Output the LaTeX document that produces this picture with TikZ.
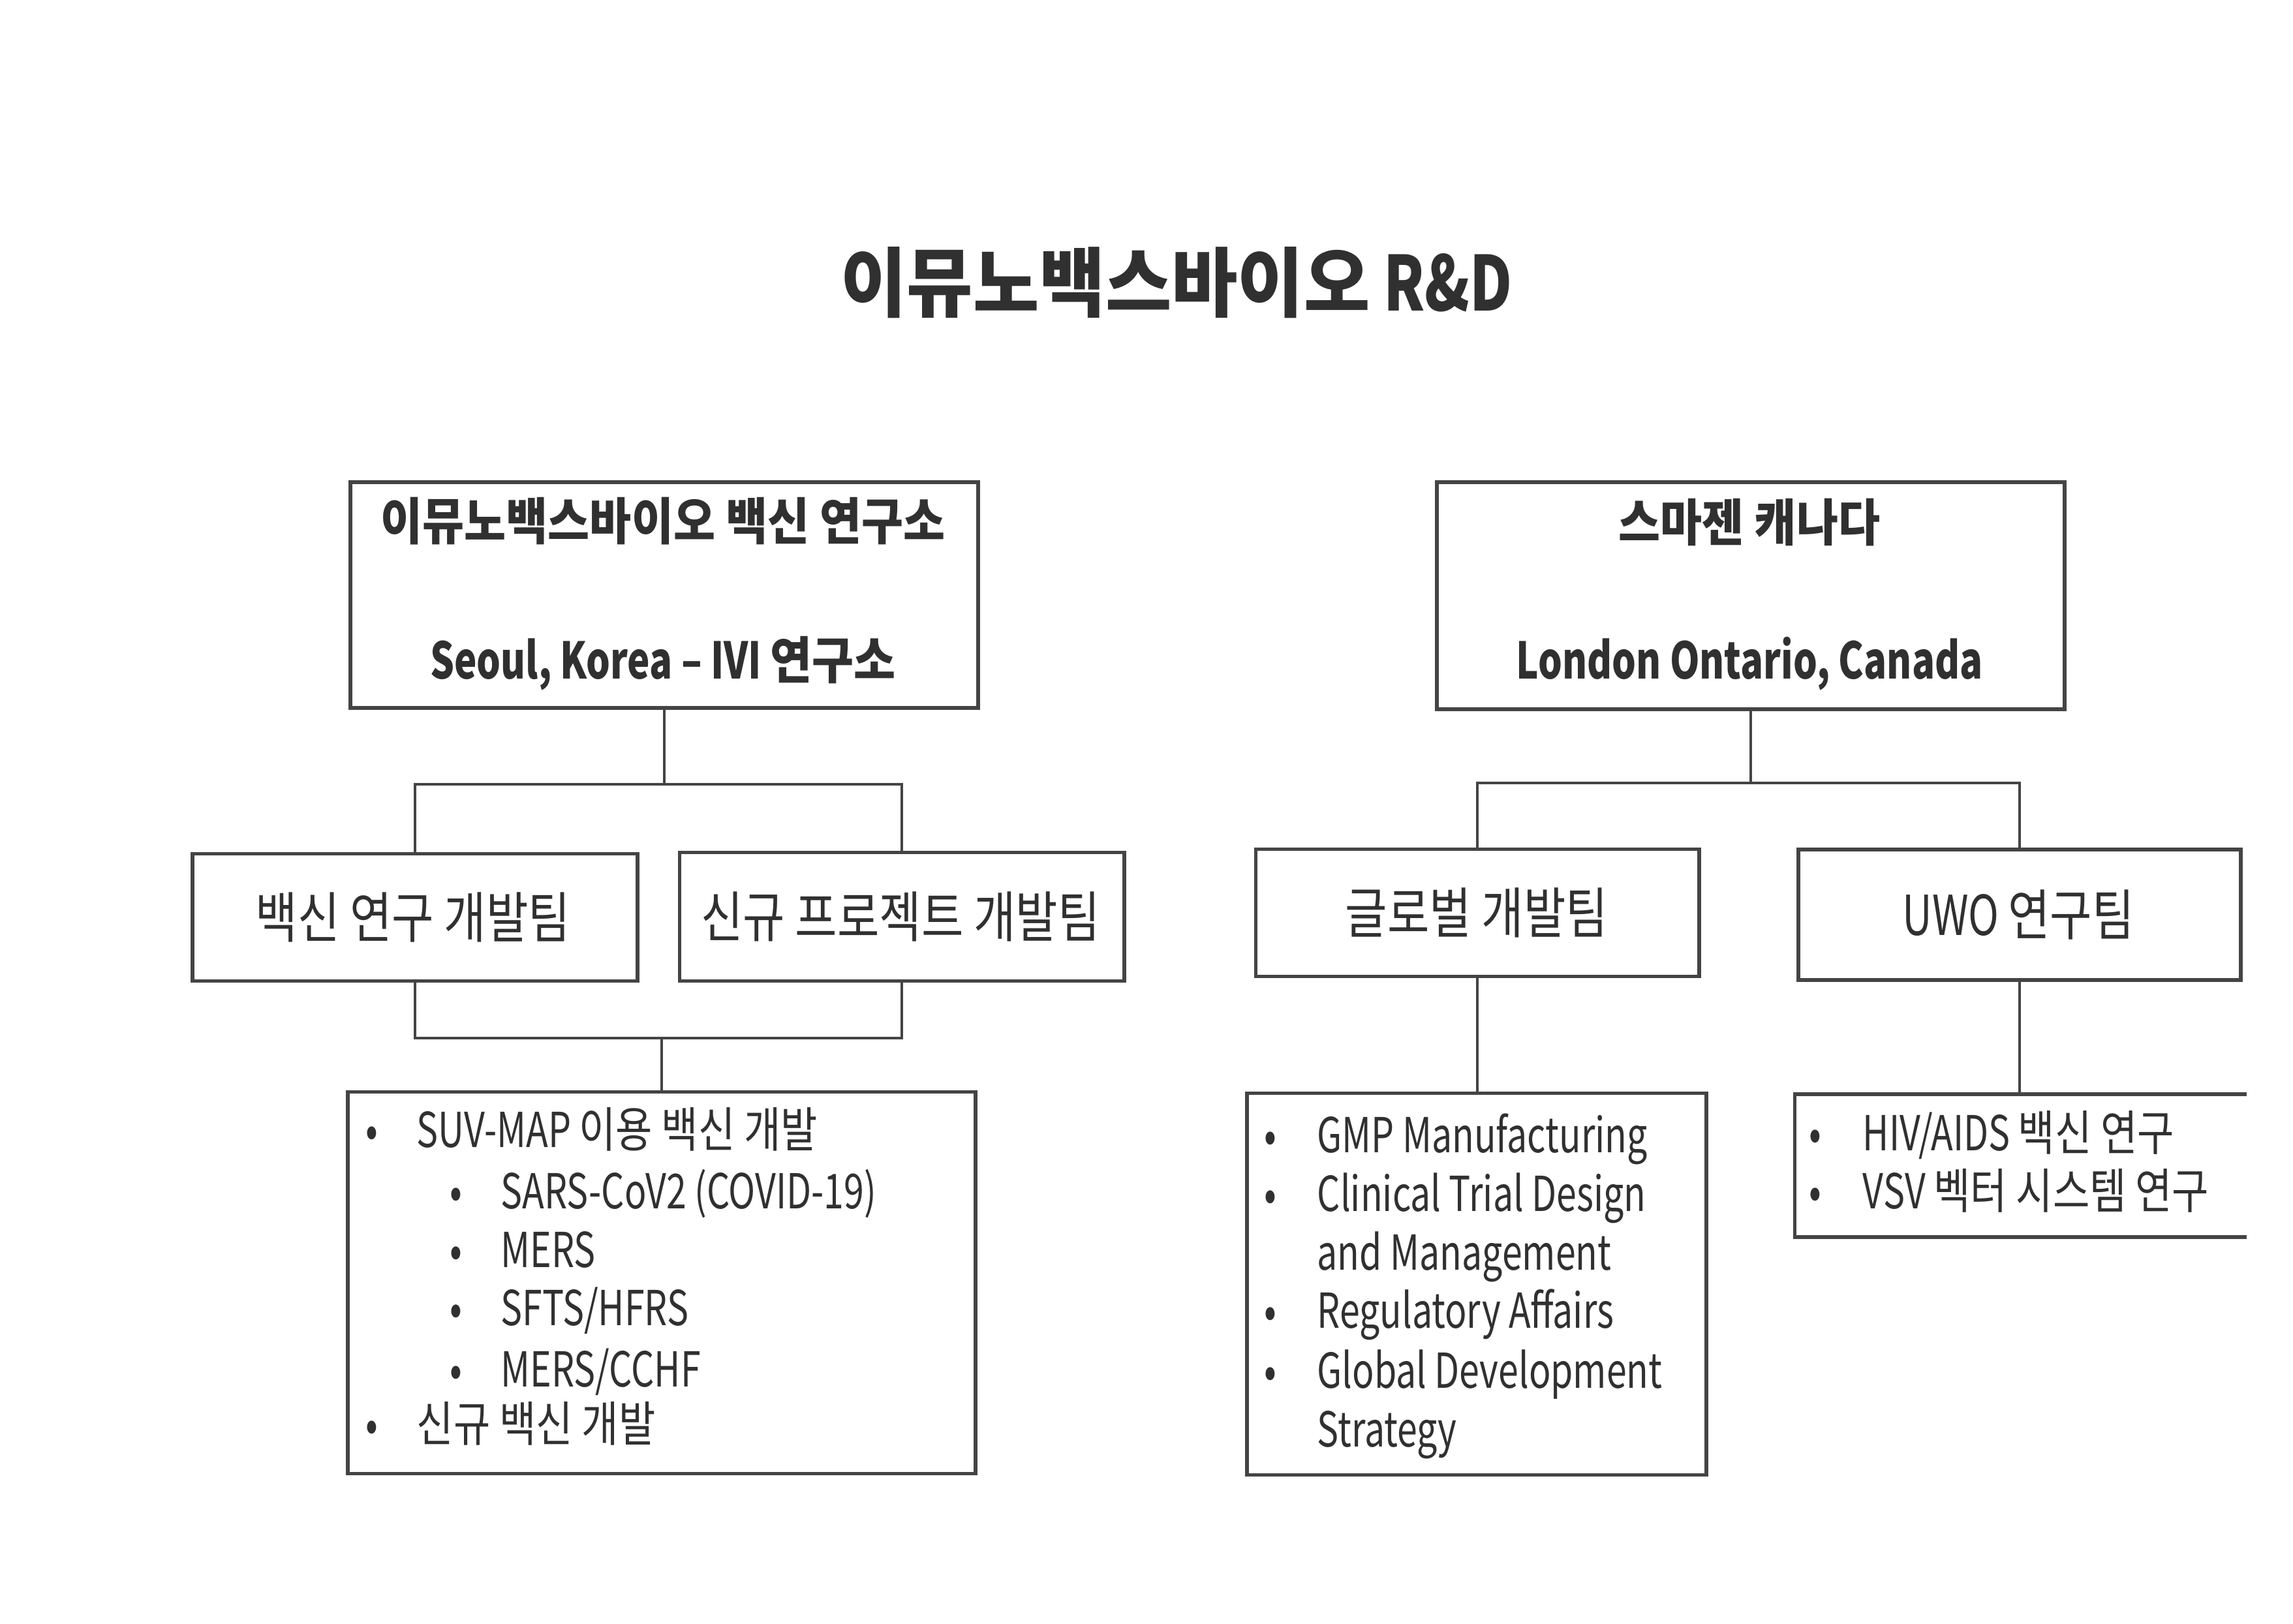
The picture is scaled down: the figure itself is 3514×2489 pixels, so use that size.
\documentclass[tikz,border=0pt]{standalone}
\usepackage{fontspec}
\usetikzlibrary{calc}
\setmainfont{Noto Sans CJK KR}
\newfontfamily\latf[FakeStretch=0.75]{Noto Sans CJK KR}
\newfontfamily\hanA[FakeStretch=0.9]{Noto Sans CJK KR}
\newfontfamily\hanB[FakeStretch=0.83]{Noto Sans CJK KR}
\newfontfamily\titL[FakeStretch=0.77]{Noto Sans CJK KR}
\newfontfamily\titH[FakeStretch=0.95]{Noto Sans CJK KR}
\definecolor{ink}{HTML}{303030}
\definecolor{edge}{HTML}{444444}
\tikzset{
  box/.style={draw=edge, line width=1.6pt, inner sep=0pt, fill=none},
  ghost/.style={inner sep=0pt},
  conn/.style={draw=edge, line width=1pt},
  txt/.style={inner sep=0pt, text=ink},
  titlef/.style={txt, font=\titL\bfseries\fontsize{33pt}{38pt}\selectfont},
  headf/.style={txt, font=\latf\bfseries\fontsize{22pt}{26pt}\selectfont},
  teamf/.style={txt, font=\latf\fontsize{24pt}{28pt}\selectfont},
  listf/.style={txt, font=\latf\fontsize{21pt}{25pt}\selectfont},
}
\begin{document}
\begin{tikzpicture}[x=0.01cm,y=-0.01cm]
\useasboundingbox (0,0) rectangle (3514,2489);
\fill[white] (0,0) rectangle (3514,2489);

% title
\node[titlef, anchor=base] (title) at (1803,477) {{\titH 이뮤노백스바이오} R\&D};

% top boxes
\node[box, minimum width=9.61cm, minimum height=3.455cm] (A) at (1018,912) {};
\node[headf, anchor=base] (A1) at (1016,828) {\hanA 이뮤노백스바이오 백신 연구소};
\node[headf, anchor=base] (A2) at (1016,1041) {Seoul, Korea – IVI {\hanA 연구소}};

\node[box, minimum width=9.61cm, minimum height=3.475cm] (D) at (2683,913) {};
\node[headf, anchor=base] (D1) at (2681,830) {\hanA 스마젠 캐나다};
\node[headf, anchor=base] (D2) at (2681,1041) {London Ontario, Canada};

% team boxes
\node[box, minimum width=6.81cm, minimum height=1.95cm] (B1) at (636,1406) {};
\node[teamf, anchor=base] (B1t) at (633,1438) {\hanB 백신 연구 개발팀};
\node[box, minimum width=6.81cm, minimum height=1.97cm] (B2) at (1382,1405) {};
\node[teamf, anchor=base] (B2t) at (1380,1437) {\hanB 신규 프로젝트 개발팀};
\node[box, minimum width=6.79cm, minimum height=1.95cm] (E1) at (2264,1399) {};
\node[teamf, anchor=base] (E1t) at (2263,1431) {\hanB 글로벌 개발팀};
\node[box, minimum width=6.78cm, minimum height=2.0cm] (E2) at (3095,1402) {};
\node[teamf, anchor=base] (E2t) at (3093,1434) {UWO {\hanB 연구팀}};

% bottom boxes
\node[box, minimum width=9.61cm, minimum height=5.845cm] (C) at (1014,1966) {};
\node[box, minimum width=7.04cm, minimum height=5.845cm] (F) at (2263,1968) {};
\node[ghost, minimum width=6.905cm, minimum height=2.17cm] (G) at (3096.75,1786.5) {};
\draw[draw=edge, line width=1.6pt] (G.north east) -- (G.north west) -- (G.south west) -- (G.south east);

% list C
\node[listf, anchor=base] (cb1) at (570,1758) {•};
\node[listf, anchor=base west] (ct1) at (638,1758) {SUV-MAP {\hanB 이용 백신 개발}};
\node[listf, anchor=base] (cb2) at (699,1852) {•};
\node[listf, anchor=base west] (ct2) at (767,1852) {SARS-CoV2 (COVID-19)};
\node[listf, anchor=base] (cb3) at (699,1942) {•};
\node[listf, anchor=base west] (ct3) at (767,1942) {MERS};
\node[listf, anchor=base] (cb4) at (699,2031) {•};
\node[listf, anchor=base west] (ct4) at (767,2031) {SFTS/HFRS};
\node[listf, anchor=base] (cb5) at (699,2125) {•};
\node[listf, anchor=base west] (ct5) at (767,2125) {MERS/CCHF};
\node[listf, anchor=base] (cb6) at (570,2209) {•};
\node[listf, anchor=base west] (ct6) at (638,2209) {\hanB 신규 백신 개발};

% list F
\node[listf, anchor=base] (fb1) at (1947,1767) {•};
\node[listf, anchor=base west] (ft1) at (2018,1767) {GMP Manufacturing};
\node[listf, anchor=base] (fb2) at (1947,1856) {•};
\node[listf, anchor=base west] (ft2) at (2018,1856) {Clinical Trial Design};
\node[listf, anchor=base west] (ft3) at (2018,1946) {and Management};
\node[listf, anchor=base] (fb4) at (1947,2035) {•};
\node[listf, anchor=base west] (ft4) at (2018,2035) {Regulatory Affairs};
\node[listf, anchor=base] (fb5) at (1947,2127) {•};
\node[listf, anchor=base west] (ft5) at (2018,2127) {Global Development};
\node[listf, anchor=base west] (ft6) at (2018,2217) {Strategy};

% list G
\node[listf, anchor=base] (gb1) at (2782,1763) {•};
\node[listf, anchor=base west] (gt1) at (2854,1763) {HIV/AIDS {\hanB 백신 연구}};
\node[listf, anchor=base] (gb2) at (2782,1852) {•};
\node[listf, anchor=base west] (gt2) at (2854,1852) {VSV {\hanB 벡터 시스템 연구}};

% connectors left
\coordinate (jA) at ($(A.south)+(0,114.5)$);
\draw[conn] (A.south) -- (jA);
\draw[conn] (B1.north) |- (jA) -| (B2.north);
\coordinate (jC) at (C.north |- 0,1591);
\draw[conn] (B1.south) |- (jC) -| (B2.south);
\draw[conn] (jC) -- (C.north);

% connectors right
\coordinate (jD) at ($(D.south)+(0,110.5)$);
\draw[conn] (D.south) -- (jD);
\draw[conn] (E1.north) |- (jD) -| (E2.north);
\draw[conn] (E1.south) -- (E1.south |- F.north);
\draw[conn] (E2.south) -- (E2.south |- G.north);
\end{tikzpicture}
\end{document}
